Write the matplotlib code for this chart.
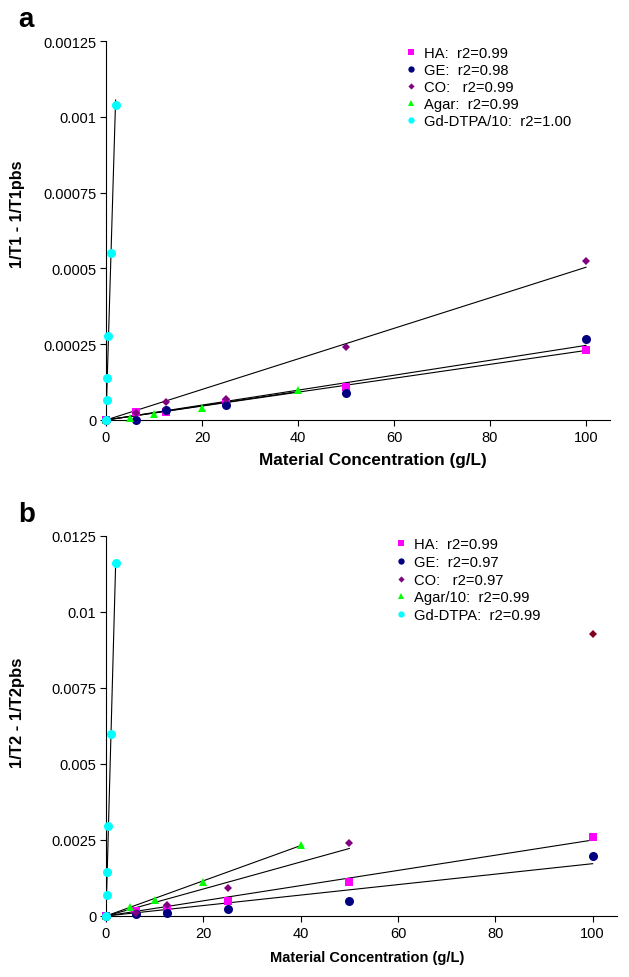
import numpy as np
import matplotlib
matplotlib.use("Agg")
import matplotlib.pyplot as plt
from matplotlib.ticker import MultipleLocator, FormatStrFormatter

plt.rcParams['font.family'] = ['Liberation Sans', 'DejaVu Sans']

# concentrations (g/L)
conc = [0, 6.25, 12.5, 25, 50, 100]
conc_agar = [0, 5, 10, 20, 40]
conc_gd = [0, 0.125, 0.25, 0.5, 1, 2]

# panel a: 1/T1 - 1/T1pbs
t1_ha = [0, 0.0000274, 0.000025, 0.000055, 0.00011, 0.000232]
t1_ge = [0, 0.0, 0.000034, 0.00005, 0.000088, 0.000267]
t1_co = [0, 0.000023, 0.000059, 0.000069, 0.000242, 0.000524]
t1_agar = [0, 0.0000066, 0.00002, 0.00004, 0.0000989]
t1_gd = [0, 0.000066, 0.000138, 0.000277, 0.00055, 0.00104]

# panel b: 1/T2 - 1/T2pbs
t2_ha = [0, 0.00016, 0.00023, 0.0005, 0.00113, 0.0026]
t2_ge = [0, 0.00006, 0.00011, 0.00022, 0.00048, 0.00198]
t2_co = [0, 0.0001, 0.00037, 0.00091, 0.00239]   # fitted up to 50 g/L
t2_co_out_x = [100]
t2_co_out = [0.00928]
t2_agar = [0, 0.00029, 0.00054, 0.00113, 0.00234]
t2_gd = [0, 0.0007, 0.00145, 0.00295, 0.006, 0.0116]

labels_a = ["HA:  r2=0.99", "GE:  r2=0.98", "CO:   r2=0.99",
            "Agar:  r2=0.99", "Gd-DTPA/10:  r2=1.00"]
labels_b = ["HA:  r2=0.99", "GE:  r2=0.97", "CO:   r2=0.97",
            "Agar/10:  r2=0.99", "Gd-DTPA:  r2=0.99"]

colors = ['#ff00ff', '#000080', '#800080', '#00ff00', '#00ffff']
markers = ['s', 'o', 'D', '^', 'o']
msizes = [6, 6.5, 4.5, 5.5, 6.5]


def fit_line(ax, x, y):
    # trendline through the origin
    x = np.asarray(x, float)
    y = np.asarray(y, float)
    k = np.sum(x * y) / np.sum(x * x)
    xs = np.array([0, x.max()])
    ax.plot(xs, k * xs, color='black', lw=0.8, zorder=2)


def panel(ax, series, labels, ytop, ystep, legend_anchor, spacing):
    for (x, y), lab, c, m, ms in zip(series, labels, colors, markers, msizes):
        fit_line(ax, x, y)
        ax.plot(x, y, linestyle='none', marker=m, color=c, markersize=ms,
                markeredgewidth=0, label=lab, zorder=3, clip_on=False)
    ax.set_xlim(0, 105)
    ax.set_ylim(0, ytop)
    ax.xaxis.set_major_locator(MultipleLocator(20))
    ax.yaxis.set_major_locator(MultipleLocator(ystep))
    ax.yaxis.set_major_formatter(FormatStrFormatter('%g'))
    for s in ['top', 'right']:
        ax.spines[s].set_visible(False)
    for s in ['left', 'bottom']:
        ax.spines[s].set_linewidth(0.8)
    ax.tick_params(labelsize=10.5, length=4, width=0.8, pad=3)
    ax.legend(loc='upper left', bbox_to_anchor=legend_anchor,
              frameon=False, fontsize=10.6, markerscale=0.7,
              handlelength=0.8, handletextpad=0.5, labelspacing=spacing,
              borderpad=0, borderaxespad=0)


fig = plt.figure(figsize=(6.29, 9.78), dpi=100)

ax1 = fig.add_axes([106 / 629, 1 - 421 / 978, 504 / 629, 379 / 978])
panel(ax1, [(conc, t1_ha), (conc, t1_ge), (conc, t1_co),
            (conc_agar, t1_agar), (conc_gd, t1_gd)],
      labels_a, 0.00125, 0.00025, ((405 - 106) / 504, (421 - 47) / 379), 0.2)
ax1.set_xlabel('Material Concentration (g/L)', fontsize=12.3,
               fontweight='bold', va='center')
ax1.xaxis.set_label_coords(0.530, -0.1055)
ax1.set_ylabel('1/T1 - 1/T1pbs', fontsize=11.6, fontweight='bold')
ax1.yaxis.set_label_coords(-0.161, 0.546)

ax2 = fig.add_axes([106 / 629, 1 - 917 / 978, 511 / 629, 380 / 978])
panel(ax2, [(conc, t2_ha), (conc, t2_ge), (conc[:5], t2_co),
            (conc_agar, t2_agar), (conc_gd, t2_gd)],
      labels_b, 0.0125, 0.0025, ((395 - 106) / 511, (917 - 538) / 380), 0.26)
ax2.plot(t2_co_out_x, t2_co_out, linestyle='none', marker='D',
         color='#800020', markersize=4.5, markeredgewidth=0, zorder=3)
ax2.set_xlabel('Material Concentration (g/L)', fontsize=10.5,
               fontweight='bold', va='center')
ax2.xaxis.set_label_coords(0.511, -0.108)
ax2.set_ylabel('1/T2 - 1/T2pbs', fontsize=12, fontweight='bold')
ax2.yaxis.set_label_coords(-0.1585, 0.537)

fig.text(18 / 629, 1 - 20 / 978, 'a', fontsize=20, fontweight='bold',
         va='center', ha='left')
fig.text(18 / 629, 1 - 515 / 978, 'b', fontsize=20, fontweight='bold',
         va='center', ha='left')

fig.savefig('out.png', dpi=100)
